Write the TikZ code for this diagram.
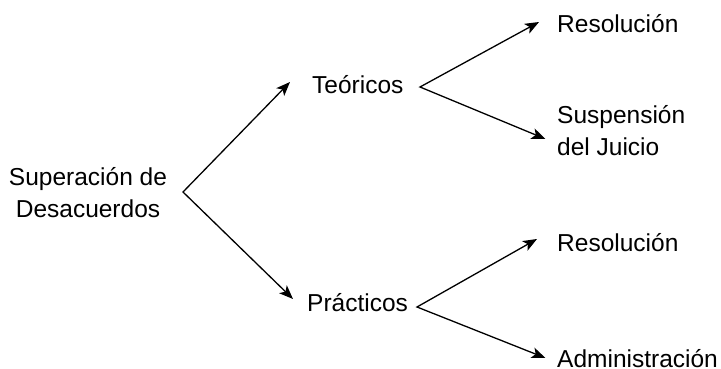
\documentclass[tikz,border=0pt]{standalone}
\usepackage{fontspec}
\setmainfont{Liberation Sans}
\usetikzlibrary{arrows.meta}
\begin{document}
\begin{tikzpicture}[x=1pt,y=-1pt,
  lbl/.style={inner sep=0pt,anchor=base west,font=\fontsize{24.5}{31.5}\selectfont},
  fork/.style={line width=1.3pt,line join=miter,{Stealth[length=14pt,width=11pt,inset=3.5pt]}-{Stealth[length=14pt,width=11pt,inset=3.5pt]}}]
\useasboundingbox (0,0) rectangle (721,369);
% nodes (base anchor of a two-line node is the last line's baseline)
\node[lbl,anchor=base,align=center] (sup) at (88,217.3) {Superación de\\Desacuerdos};
\node[lbl] (teo) at (312,93.3) {Teóricos};
\node[lbl] (pra) at (307,311.7) {Prácticos};
\node[lbl] (res1) at (557,32.3) {Resolución};
\node[lbl,align=left] (sus) at (557,155) {Suspensión\\del Juicio};
\node[lbl] (res2) at (557,251) {Resolución};
\node[lbl] (adm) at (557,367.3) {Administración};
% fork points and tips
\coordinate (v0) at (183,192);
\coordinate (tT) at (290,82);
\coordinate (tP) at (293,299);
\coordinate (v1) at (420,87);
\coordinate (tR1) at (539,22);
\coordinate (tS) at (545.5,139);
\coordinate (v2) at (417,307);
\coordinate (tR2) at (537,239);
\coordinate (tA) at (545.5,358);
% connectors
\draw[fork] (tT) -- (v0) -- (tP);
\draw[fork] (tR1) -- (v1) -- (tS);
\draw[fork] (tR2) -- (v2) -- (tA);
\end{tikzpicture}
\end{document}
